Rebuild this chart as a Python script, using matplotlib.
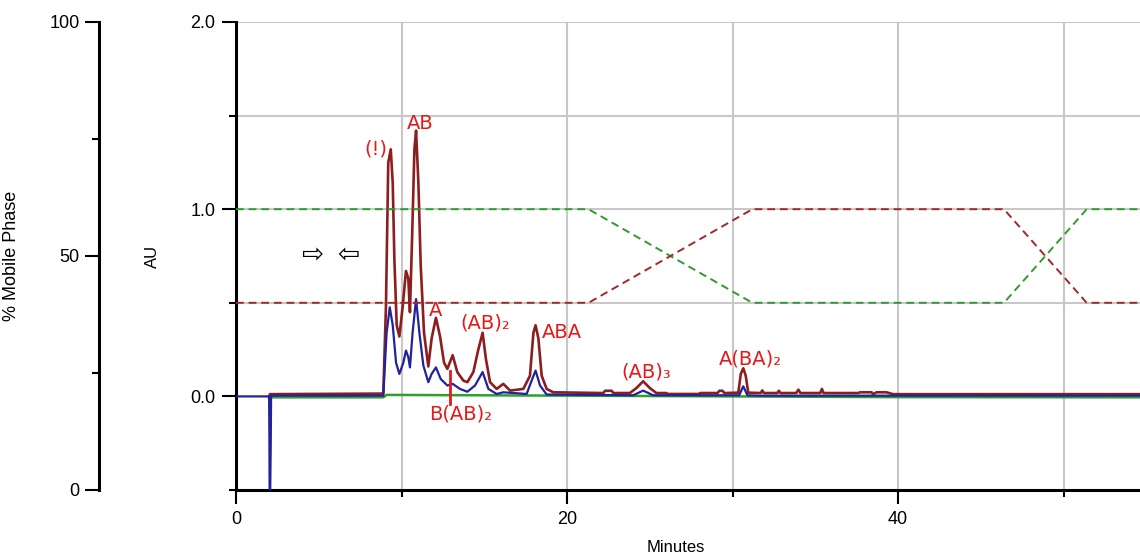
import numpy as np
import matplotlib
matplotlib.use("Agg")
import matplotlib.pyplot as plt
from matplotlib.ticker import FixedLocator

plt.rcParams["font.family"] = ["Liberation Sans", "DejaVu Sans"]

# ------------------------------------------------------------
# data (minutes, AU)
# ------------------------------------------------------------
red_t = [2.0, 2.05, 8.9, 9.06, 9.2, 9.35, 9.47, 9.57, 9.71, 9.87, 10.07, 10.27,
         10.41, 10.51, 10.65, 10.78, 10.88, 11.02, 11.16, 11.36, 11.62, 11.82,
         12.08, 12.33, 12.57, 12.77, 13.09, 13.37, 13.74, 13.98, 14.34, 14.64,
         14.9, 15.1, 15.35, 15.75, 16.15, 16.56, 17.36, 17.76, 17.97, 18.1,
         18.27, 18.47, 18.77, 19.17, 22.2, 22.3, 22.7, 22.8, 23.8, 24.2, 24.6,
         25.0, 25.4, 26.0, 26.05, 28.0, 28.05, 29.1, 29.2, 29.4, 29.5, 30.35,
         30.5, 30.65, 30.8, 30.95, 31.7, 31.8, 31.9, 32.7, 32.8, 32.9, 33.85,
         33.98, 34.1, 35.3, 35.4, 35.5, 37.6, 37.7, 38.4, 38.5, 38.7, 39.3,
         39.7, 45.0, 55.0]
red_au = [0.0, 0.012, 0.015, 0.48, 1.25, 1.32, 1.14, 0.73, 0.38, 0.32, 0.48, 0.67,
          0.63, 0.45, 0.88, 1.32, 1.42, 1.14, 0.70, 0.34, 0.16, 0.31,
          0.42, 0.32, 0.18, 0.147, 0.22, 0.13, 0.084, 0.076, 0.13, 0.25,
          0.34, 0.20, 0.076, 0.04, 0.067, 0.031, 0.04, 0.11, 0.34, 0.38,
          0.31, 0.11, 0.04, 0.022, 0.018, 0.03, 0.03, 0.018, 0.018, 0.045, 0.081,
          0.045, 0.018, 0.018, 0.013, 0.013, 0.018, 0.018, 0.03, 0.03, 0.018, 0.02,
          0.12, 0.15, 0.11, 0.02, 0.018, 0.032, 0.018, 0.018, 0.03, 0.018, 0.018,
          0.036, 0.018, 0.018, 0.04, 0.018, 0.018, 0.022, 0.022, 0.012, 0.022, 0.022,
          0.012, 0.012, 0.012]

blue_t = [0.0, 2.0, 2.02, 2.04, 2.1, 2.12, 8.9, 9.1, 9.29, 9.47, 9.67, 9.87, 10.11,
          10.27, 10.41, 10.51, 10.67, 10.88, 11.08, 11.32, 11.62, 11.82, 12.08,
          12.37, 12.77, 13.09, 13.53, 13.98, 14.44, 14.9, 15.25, 15.75, 16.15,
          17.56, 17.86, 18.1, 18.37, 18.77, 24.0, 24.6, 25.2, 30.4, 30.65, 30.9,
          31.5, 55.0]
blue_au = [0.0, 0.0, -0.25, -0.7, -0.25, 0.004, 0.004, 0.34, 0.476, 0.38, 0.18, 0.12, 0.18,
           0.245, 0.21, 0.155, 0.34, 0.52, 0.34, 0.165, 0.076, 0.12, 0.155,
           0.093, 0.058, 0.067, 0.04, 0.025, 0.058, 0.13, 0.04, 0.013, 0.022,
           0.013, 0.084, 0.138, 0.058, 0.01, 0.006, 0.031, 0.006, 0.006, 0.054, 0.006,
           0.004, 0.004]

green_t = [2.0, 8.9, 9.1, 20.0, 40.0, 55.0]
green_au = [-0.005, -0.005, 0.008, 0.004, -0.004, -0.005]

# gradient program (% mobile phase)
grad_t = [0.0, 21.3, 31.2, 46.4, 51.4, 55.0]
grad_green = [60, 60, 40, 40, 60, 60]
grad_red = [40, 40, 60, 60, 40, 40]

# peak labels: text, x (min), y (AU)
peak_labels = ["(!)", "AB", "A", "(AB)₂", "ABA", "B(AB)₂", "(AB)₃", "A(BA)₂"]
label_x = [8.46, 11.12, 12.08, 15.05, 19.70, 13.6, 24.77, 31.06]
label_y = [1.32, 1.46, 0.46, 0.39, 0.34, -0.093, 0.13, 0.20]

# ------------------------------------------------------------
# figure
# ------------------------------------------------------------
fig = plt.figure(figsize=(11.4, 5.57), dpi=100)
ax = fig.add_axes([236 / 1140, 1 - 490 / 557, 904 / 1140, 468 / 557])
ax2 = ax.twinx()

ax.set_xlim(0, 54.62)
ax.set_ylim(-0.5, 2.0)
ax2.set_ylim(0, 100)

# grid
for gx in [10, 20, 30, 40, 50]:
    ax.axvline(gx, color="#c8c8c8", lw=1.5, zorder=0)
for gy in [0.5, 1.0, 1.5, 2.0]:
    ax.axhline(gy, color="#c8c8c8", lw=1.5, zorder=0)

# gradient
ax2.plot(grad_t, grad_green, color="#2f9a2f", lw=1.4, ls=(0, (4, 2.5)), zorder=2)
ax2.plot(grad_t, grad_red, color="#a02828", lw=1.4, ls=(0, (4, 2.5)), zorder=2)

# traces
ax.plot(green_t, green_au, color="#2ea02e", lw=1.8, zorder=3)
ax.plot(red_t, red_au, color="#8c1e1e", lw=1.9, zorder=4)
ax.plot(blue_t, blue_au, color="#22229a", lw=1.6, zorder=5)

# peak labels
for txt, lx, ly in zip(peak_labels, label_x, label_y):
    ax.text(lx, ly, txt, color="#e81818", fontsize=14, ha="center", va="center",
            family=["DejaVu Sans"], zorder=6)
ax.plot([12.93, 12.93], [-0.04, 0.136], color="#e81818", lw=2, zorder=6)

# injection arrows
ax.text(4.59, 0.75, "⇨", fontsize=19, ha="center", va="center", family=["DejaVu Sans"])
ax.text(6.77, 0.75, "⇦", fontsize=19, ha="center", va="center", family=["DejaVu Sans"])

# main axis styling
for s in ["top", "right"]:
    ax.spines[s].set_visible(False)
    ax2.spines[s].set_visible(False)
ax2.spines["bottom"].set_visible(False)
for s in ["left", "bottom"]:
    ax.spines[s].set_linewidth(2.2)

ax.xaxis.set_major_locator(FixedLocator([0, 20, 40]))
ax.xaxis.set_minor_locator(FixedLocator([10, 30, 50]))
ax.yaxis.set_major_locator(FixedLocator([0.0, 1.0, 2.0]))
ax.yaxis.set_minor_locator(FixedLocator([-0.5, 0.5, 1.5]))
ax.set_yticklabels(["0.0", "1.0", "2.0"])
ax.tick_params(which="major", length=10, width=1.5, labelsize=13, pad=5)
ax.tick_params(which="minor", length=5, width=1.5)

ax.set_xlabel("Minutes", fontsize=12, va="center")
ax.xaxis.set_label_coords(0.486, -0.122)
ax.set_ylabel("AU", fontsize=12)
ax.yaxis.set_label_coords(-0.084, 0.5)

# secondary (% mobile phase) axis on the far left
ax2.yaxis.tick_left()
ax2.yaxis.set_label_position("left")
ax2.spines["left"].set_visible(True)
ax2.spines["left"].set_position(("outward", 137 * 72 / 100))
ax2.spines["left"].set_linewidth(2.2)
ax2.yaxis.set_major_locator(FixedLocator([0, 50, 100]))
ax2.yaxis.set_minor_locator(FixedLocator([25, 75]))
ax2.tick_params(which="major", length=10, width=1.5, labelsize=13, pad=4)
ax2.tick_params(which="minor", length=5, width=1.5)
ax2.set_ylabel("% Mobile Phase", fontsize=13)
ax2.yaxis.set_label_coords(-0.239, 0.5)

fig.savefig("out.png", dpi=100)
